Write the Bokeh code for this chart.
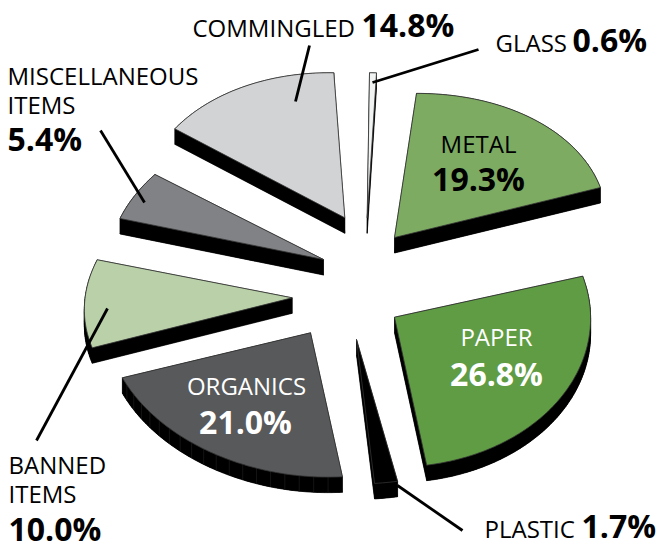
import math
from bokeh.plotting import figure
from bokeh.embed import file_html
from bokeh.resources import INLINE
from bokeh.core.properties import value

categories = ["GLASS", "METAL", "PAPER", "PLASTIC", "ORGANICS", "BANNED ITEMS", "MISCELLANEOUS ITEMS", "COMMINGLED"]
shares = [0.6, 19.3, 26.8, 1.7, 21.0, 10.0, 5.4, 14.8]
share_labels = ["0.6%", "19.3%", "26.8%", "1.7%", "21.0%", "10.0%", "5.4%", "14.8%"]
face_colors = ["#f1f2f2", "#7dab62", "#5f9c44", "#000000", "#58595b", "#b9d0a8", "#808285", "#d1d3d4"]

# per-slice exploded centre and projected-disc frame (a sin t + b cos t, c sin t + d cos t)
centres = [(366.7, 217.3), (394, 237), (394, 316.7), (356, 339), (310, 332.3), (291.7, 297.3), (323, 259), (344.3, 217.3)]
frames = [(185, 2.3, 0, -145), (212, 14, -5.6, -144), (196, 6, 5.7, -149.7), (217, 1.1, 0, -144.5),
          (204, -14, 2.5, -144.3), (207.5, 12, -3.6, -142), (215, 7.2, -1.3, -144.7), (203.3, -11, 3.4, -145)]
depth = 15.5

p = figure(width=658, height=544, x_range=(0, 658), y_range=(544, 0), output_backend="svg",
           toolbar_location=None, min_border=0, outline_line_color=None)
p.xaxis.visible = False
p.yaxis.visible = False
p.xgrid.visible = False
p.ygrid.visible = False

total = sum(shares)
start = 0.0
fx, fy, fc = [], [], []
sx, sy = [], []
rx, ry = [], []
for i, v in enumerate(shares):
    span = v / total * 360
    n = max(3, int(span))
    ox, oy = centres[i]
    a, b, c, d = frames[i]
    xs, ys = [ox], [oy]
    for k in range(n + 1):
        t = math.radians(start + span * k / n)
        xs.append(ox + a * math.sin(t) + b * math.cos(t))
        ys.append(oy + c * math.sin(t) + d * math.cos(t))
    fx.append(xs)
    fy.append(ys)
    fc.append(face_colors[i])
    m = len(xs)
    for k in range(m):
        j = (k + 1) % m
        sx.append([xs[k], xs[j], xs[j], xs[k]])
        sy.append([ys[k], ys[j], ys[j] + depth, ys[k] + depth])
    sx.append(xs)
    sy.append([y + depth for y in ys])
    if categories[i] == "ORGANICS":
        for k in range(1, m, 4):
            rx.append([xs[k], xs[k]])
            ry.append([ys[k], ys[k] + depth])
    start += span

p.patches(sx, sy, fill_color="#000000", line_color="#000000", line_width=0.4)
p.multi_line(rx, ry, line_color="#333333", line_width=0.4)
p.patches(fx, fy, fill_color=fc, line_color="#333333", line_width=0.8)

# leader lines
leader_x = [[309, 295], [100, 144], [36, 107], [478, 372], [462, 397]]
leader_y = [[45, 101], [130, 202], [440, 308], [49, 82], [530, 485]]
p.multi_line(leader_x, leader_y, line_color="#000000", line_width=2.8)

FONT = value("Open Sans")
NAME = 24
PCT = 32


def txt(x, y, s, size, bold=False, color="#000000", align="left"):
    p.text([x - 1], [y - 0.4 * size], text=[s], text_font=FONT, text_font_size=f"{size}px",
           text_font_style="bold" if bold else "normal", text_color=color,
           text_align=align, text_baseline="alphabetic")


txt(193, 37, "COMMINGLED", NAME)
txt(362, 37, share_labels[7], PCT, True)
txt(496, 52, "GLASS", NAME)
txt(573, 52, share_labels[0], PCT, True)
txt(8, 85, "MISCELLANEOUS", NAME)
txt(8, 114, "ITEMS", NAME)
txt(8, 151, share_labels[6], PCT, True)
txt(479, 153, "METAL", NAME, align="center")
txt(479, 191, share_labels[1], PCT, True, align="center")
txt(497, 346, "PAPER", NAME, color="#ffffff", align="center")
txt(497, 386, share_labels[2], PCT, True, color="#ffffff", align="center")
txt(247, 395, "ORGANICS", NAME, color="#ffffff", align="center")
txt(246, 434, share_labels[4], PCT, True, color="#ffffff", align="center")
txt(9, 474, "BANNED", NAME)
txt(9, 503, "ITEMS", NAME)
txt(9, 541, share_labels[5], PCT, True)
txt(485, 538, "PLASTIC", NAME)
txt(582, 538, share_labels[3], PCT, True)

open("out.html", "w").write(file_html(p, INLINE))
